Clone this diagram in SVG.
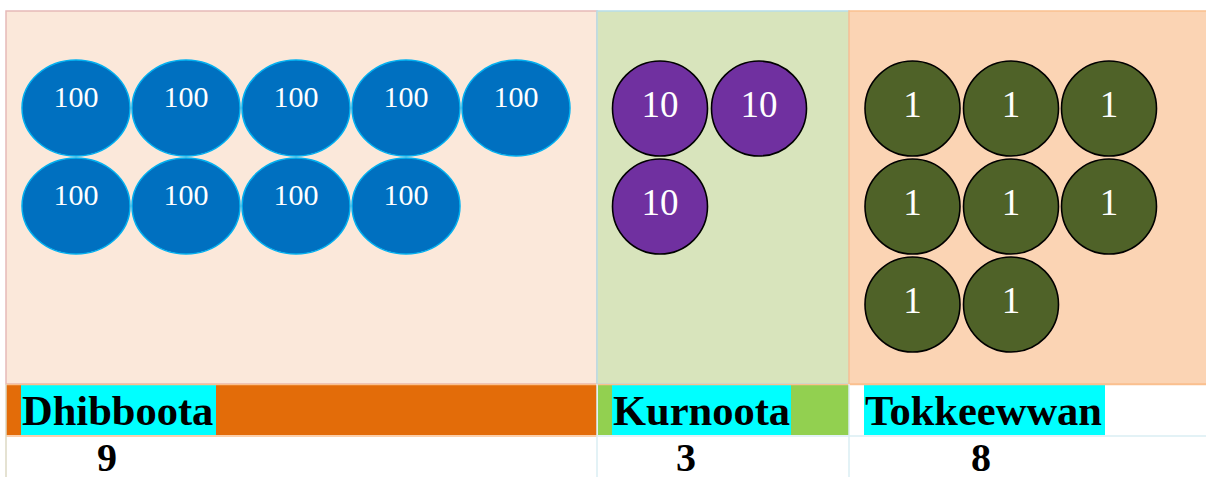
<svg xmlns="http://www.w3.org/2000/svg" width="1206" height="477" viewBox="0 0 1206 477">
<style>
.b ellipse{fill:#0070c0;stroke:#00b0f0;stroke-width:1.5}
.b text{font-family:"Liberation Serif",serif;font-size:30px;fill:#fff;text-anchor:middle}
.p circle{fill:#7030a0;stroke:#000;stroke-width:1.6}
.g circle{fill:#4f6228;stroke:#000;stroke-width:1.6}
.p text,.g text{font-family:"Liberation Serif",serif;font-size:37px;fill:#fff;text-anchor:middle}
.lbl{font-family:"Liberation Serif",serif;font-size:42.5px;font-weight:bold;fill:#000}
.num{font-family:"Liberation Serif",serif;font-size:40px;font-weight:bold;fill:#000;text-anchor:middle}
</style>
<rect width="1206" height="477" fill="#fff"/>
<g id="panels">
<rect x="6" y="11" width="591" height="373" fill="#fbe8da" stroke="#e6b9b8" stroke-width="1.5"/>
<rect x="597" y="11" width="252" height="373" fill="#d8e4bc" stroke="#b7dde8" stroke-width="1.5"/>
<rect x="849" y="11" width="358" height="373" fill="#fbd4b4" stroke="#fac08f" stroke-width="1.5"/>
</g>
<g id="label-row">
<rect x="6" y="385" width="591" height="50" fill="#e36c09"/>
<rect x="21" y="385" width="195" height="50" fill="#00ffff"/>
<rect x="598" y="385" width="251" height="50" fill="#92d050"/>
<rect x="612" y="385" width="179" height="50" fill="#00ffff"/>
<rect x="864" y="385" width="241" height="50" fill="#00ffff"/>
<line x1="6" y1="384.5" x2="1206" y2="384.5" stroke="#fac08f" stroke-width="1.5"/>
<line x1="6" y1="436" x2="597" y2="436" stroke="#fac090" stroke-width="1.5"/>
<line x1="597" y1="436" x2="1206" y2="436" stroke="#daeef3" stroke-width="1.5"/>
<line x1="6" y1="384" x2="6" y2="477" stroke="#ddd9c3" stroke-width="1.5"/>
<line x1="597" y1="384" x2="597" y2="477" stroke="#daeef3" stroke-width="1.5"/>
<line x1="849" y1="384" x2="849" y2="477" stroke="#daeef3" stroke-width="1.5"/>
<text class="lbl" x="22" y="425">Dhibboota</text>
<text class="lbl" x="613" y="425">Kurnoota</text>
<text class="lbl" x="865" y="425">Tokkeewwan</text>
<text class="num" x="107" y="471">9</text>
<text class="num" x="686" y="471">3</text>
<text class="num" x="981" y="471">8</text>
</g>
<g id="hundreds" class="b">
<g id="h1"><ellipse cx="76" cy="108" rx="54" ry="48"/><text x="76" y="107">100</text></g>
<g id="h2"><ellipse cx="186" cy="108" rx="54" ry="48"/><text x="186" y="107">100</text></g>
<g id="h3"><ellipse cx="296" cy="108" rx="54" ry="48"/><text x="296" y="107">100</text></g>
<g id="h4"><ellipse cx="406" cy="108" rx="54" ry="48"/><text x="406" y="107">100</text></g>
<g id="h5"><ellipse cx="516" cy="108" rx="54" ry="48"/><text x="516" y="107">100</text></g>
<g id="h6"><ellipse cx="76" cy="206" rx="54" ry="48"/><text x="76" y="205">100</text></g>
<g id="h7"><ellipse cx="186" cy="206" rx="54" ry="48"/><text x="186" y="205">100</text></g>
<g id="h8"><ellipse cx="296" cy="206" rx="54" ry="48"/><text x="296" y="205">100</text></g>
<g id="h9"><ellipse cx="406" cy="206" rx="54" ry="48"/><text x="406" y="205">100</text></g>
</g>
<g id="tens" class="p">
<g id="t1"><circle cx="660" cy="108.5" r="47.5"/><text x="660" y="117">10</text></g>
<g id="t2"><circle cx="759" cy="108.5" r="47.5"/><text x="759" y="117">10</text></g>
<g id="t3"><circle cx="660" cy="206.5" r="47.5"/><text x="660" y="215">10</text></g>
</g>
<g id="ones" class="g">
<g id="o1"><circle cx="912.5" cy="108.5" r="47.5"/><text x="912.5" y="117">1</text></g>
<g id="o2"><circle cx="1011" cy="108.5" r="47.5"/><text x="1011" y="117">1</text></g>
<g id="o3"><circle cx="1109" cy="108.5" r="47.5"/><text x="1109" y="117">1</text></g>
<g id="o4"><circle cx="912.5" cy="206.5" r="47.5"/><text x="912.5" y="215">1</text></g>
<g id="o5"><circle cx="1011" cy="206.5" r="47.5"/><text x="1011" y="215">1</text></g>
<g id="o6"><circle cx="1109" cy="206.5" r="47.5"/><text x="1109" y="215">1</text></g>
<g id="o7"><circle cx="912.5" cy="304.5" r="47.5"/><text x="912.5" y="313">1</text></g>
<g id="o8"><circle cx="1011" cy="304.5" r="47.5"/><text x="1011" y="313">1</text></g>
</g>
</svg>
